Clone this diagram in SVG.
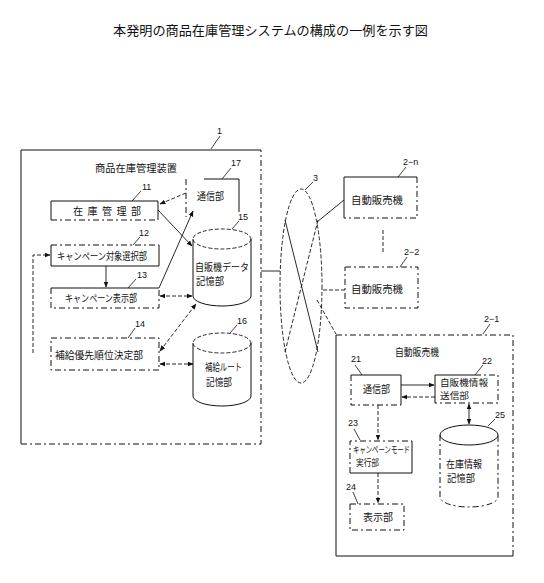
<svg xmlns="http://www.w3.org/2000/svg" width="544" height="583" viewBox="0 0 544 583">
<style>
text{font-family:"Noto Sans CJK JP","Liberation Sans",sans-serif;fill:#111;}
.t{font-size:10px;}
.s{font-size:9px;}
.n{font-family:"Liberation Sans",sans-serif;font-size:9px;}
.title{font-size:13px;}
.box{fill:none;stroke:#111;stroke-width:1;}
.dbox{fill:none;stroke:#111;stroke-width:1;stroke-dasharray:6 3 2 3;}
.ln{fill:none;stroke:#111;stroke-width:0.9;}
.dl{fill:none;stroke:#111;stroke-width:0.9;stroke-dasharray:4 2;}
.ld{fill:none;stroke:#111;stroke-width:0.8;}
</style>
<defs>
<marker id="ah" viewBox="0 0 10 10" refX="9" refY="5" markerWidth="6" markerHeight="6" orient="auto-start-reverse" markerUnits="userSpaceOnUse">
<path d="M0,1 L10,5 L0,9 z" fill="#111"/>
</marker>
</defs>
<rect width="544" height="583" fill="#fff"/>
<text class="title" x="113" y="35" textLength="315" lengthAdjust="spacingAndGlyphs">本発明の商品在庫管理システムの構成の一例を示す図</text>

<g id="device1">
<path class="box" d="M261,150 L21,150 L21,444"/>
<path class="dbox" d="M21,444 L261,444 L261,150"/>
<text class="t" x="95" y="172" textLength="82" lengthAdjust="spacingAndGlyphs">商品在庫管理装置</text>
<path class="ld" d="M211,149 L220,136"/>
<text class="n" x="217" y="134">1</text>
</g>

<g id="n17">
<path class="dbox" d="M186,179 L186,217"/>
<path class="box" d="M204,179 L239,179 L239,212"/>
<text class="t" x="197" y="200" textLength="27" lengthAdjust="spacingAndGlyphs">通信部</text>
<path class="ld" d="M222,179 L231,168"/>
<text class="n" x="231" y="166">17</text>
</g>

<g id="n11">
<path class="box" d="M51,220 L51,201 L158,201 L158,220"/>
<path class="dbox" d="M51,220 L158,220"/>
<text class="t" x="73" y="215" textLength="68" lengthAdjust="spacing">在庫管理部</text>
<path class="ld" d="M132,201 L141,191"/>
<text class="n" x="142" y="190">11</text>
</g>

<g id="n12">
<path class="dbox" d="M51,245 L159,245"/>
<path class="box" d="M51,245 L51,266 L159,266 L159,245"/>
<text class="t" x="57" y="260" textLength="90" lengthAdjust="spacingAndGlyphs">キャンペーン対象選択部</text>
<path class="ld" d="M133,245 L140,237"/>
<text class="n" x="139" y="236">12</text>
</g>

<g id="n13">
<path class="box" d="M51,288 L159,288"/>
<path class="dbox" d="M51,288 L51,308 L159,308 L159,288"/>
<text class="t" x="65" y="302" textLength="72" lengthAdjust="spacingAndGlyphs">キャンペーン表示部</text>
<path class="ld" d="M128,288 L136,279"/>
<text class="n" x="137" y="278">13</text>
</g>

<g id="n14">
<rect class="dbox" x="51" y="338" width="108" height="32"/>
<text class="t" x="55" y="359" textLength="88" lengthAdjust="spacingAndGlyphs">補給優先順位決定部</text>
<path class="ld" d="M128,338 L135,328"/>
<text class="n" x="135" y="327">14</text>
</g>

<g id="n15">
<path class="box" d="M193,239 L193,296 A29,10 0 0 0 251,296 L251,239"/>
<ellipse class="dl" cx="222" cy="239" rx="29" ry="10"/>
<text class="t" x="195" y="271" textLength="54" lengthAdjust="spacingAndGlyphs">自販機データ</text>
<text class="t" x="196" y="285" textLength="28" lengthAdjust="spacingAndGlyphs">記憶部</text>
<path class="ld" d="M232,229 L239,221"/>
<text class="n" x="238" y="220">15</text>
</g>

<g id="n16">
<path class="box" d="M193,343 L193,396 A29,10 0 0 0 251,396 L251,343"/>
<ellipse class="dl" cx="222" cy="343" rx="29" ry="10"/>
<text class="t" x="205" y="371" textLength="37" lengthAdjust="spacingAndGlyphs">補給ルート</text>
<text class="t" x="206" y="386" textLength="26" lengthAdjust="spacingAndGlyphs">記憶部</text>
<path class="ld" d="M230,333 L237,325"/>
<text class="n" x="237" y="324">16</text>
</g>

<g id="n3">
<ellipse class="dl" cx="301" cy="286" rx="21" ry="97"/>
<path class="ln" d="M285,220 L318,352"/>
<path class="dl" d="M318,220 L285,352"/>
<path class="ld" d="M305,190 L313,182"/>
<text class="n" x="313" y="181">3</text>
</g>

<g id="n2n">
<path class="box" d="M344,218 L344,177 L417,177"/>
<path class="dbox" d="M417,177 L417,218 L344,218"/>
<text class="t" x="351" y="204" textLength="52" lengthAdjust="spacingAndGlyphs">自動販売機</text>
<path class="ld" d="M398,177 L406,167"/>
<text class="n" x="403" y="165">2−n</text>
</g>

<g id="n22m">
<rect class="dbox" x="345" y="267" width="73" height="41"/>
<text class="t" x="351" y="293" textLength="52" lengthAdjust="spacingAndGlyphs">自動販売機</text>
<path class="ld" d="M400,267 L407,257"/>
<text class="n" x="404" y="255">2−2</text>
<path class="dl" d="M383,230 L383,252"/>
</g>

<g id="n21m">
<path class="dbox" d="M336,335 L513,335 L513,556"/>
<path class="box" d="M336,335 L336,556 L513,556"/>
<text class="t" x="395" y="356" textLength="44" lengthAdjust="spacingAndGlyphs">自動販売機</text>
<path class="ld" d="M483,334 L490,324"/>
<text class="n" x="484" y="322">2−1</text>
</g>

<g id="n21">
<path class="box" d="M351,375 L401,375 L401,405"/>
<path class="dbox" d="M351,375 L351,405 L401,405"/>
<text class="t" x="363" y="393" textLength="27" lengthAdjust="spacingAndGlyphs">通信部</text>
<path class="ld" d="M362,375 L355,365"/>
<text class="n" x="351" y="362">21</text>
</g>

<g id="n22">
<path class="box" d="M435,403 L435,375 L475,375"/>
<path class="dbox" d="M475,375 L498,375 L498,403 L435,403"/>
<text class="s" x="440" y="386" textLength="48" lengthAdjust="spacingAndGlyphs">自販機情報</text>
<text class="s" x="440" y="399" textLength="29" lengthAdjust="spacingAndGlyphs">送信部</text>
<path class="ld" d="M475,375 L483,365"/>
<text class="n" x="482" y="364">22</text>
</g>

<g id="n23">
<path class="dbox" d="M350,473 L350,441 L412,441"/>
<path class="box" d="M412,441 L412,473 L350,473"/>
<text class="s" x="353" y="453" textLength="57" lengthAdjust="spacingAndGlyphs">キャンペーンモード</text>
<text class="s" x="356" y="466" textLength="23" lengthAdjust="spacingAndGlyphs">実行部</text>
<path class="ld" d="M360,440 L354,429"/>
<text class="n" x="348" y="426">23</text>
</g>

<g id="n24">
<rect class="dbox" x="350" y="504" width="54" height="26"/>
<text class="t" x="363" y="521" textLength="30" lengthAdjust="spacingAndGlyphs">表示部</text>
<path class="ld" d="M358,504 L353,492"/>
<text class="n" x="346" y="490">24</text>
</g>

<g id="n25">
<path class="dbox" d="M440,435 L440,497 A29,10 0 0 0 498,497 L498,435"/>
<ellipse class="box" cx="469" cy="435" rx="29" ry="10"/>
<text class="t" x="446" y="468" textLength="36" lengthAdjust="spacingAndGlyphs">在庫情報</text>
<text class="t" x="447" y="482" textLength="28" lengthAdjust="spacingAndGlyphs">記憶部</text>
<path class="ld" d="M488,426 L495,419"/>
<text class="n" x="495" y="418">25</text>
</g>

<g id="connectors">
<path class="dl" d="M186,193 L160,204" marker-end="url(#ah)"/>
<path class="ln" d="M158,210 L192,246" marker-end="url(#ah)"/>
<path class="ln" d="M159,288 L193,211" marker-end="url(#ah)"/>
<path class="ln" d="M106,266 L106,287" marker-end="url(#ah)"/>
<path class="dl" d="M33,353 L33,255 L50,255" marker-end="url(#ah)"/>
<path class="dl" d="M160,296 L192,296" marker-start="url(#ah)" marker-end="url(#ah)"/>
<path class="dl" d="M160,351 L196,304" marker-start="url(#ah)" marker-end="url(#ah)"/>
<path class="dl" d="M160,364 L193,364" marker-start="url(#ah)" marker-end="url(#ah)"/>
<path class="ln" d="M261,271 L280,271"/>
<path class="ln" d="M317,222 L344,200"/>
<path class="dl" d="M323,290 L345,290"/>
<path class="dl" d="M317,300 L336,334"/>
<path class="ln" d="M401,385 L434,385" marker-end="url(#ah)"/>
<path class="dl" d="M435,397 L402,397" marker-end="url(#ah)"/>
<path class="ln" d="M469,404 L469,424" marker-start="url(#ah)" marker-end="url(#ah)"/>
<path class="dl" d="M378,405 L378,440" marker-end="url(#ah)"/>
<path class="dl" d="M378,473 L378,503" marker-end="url(#ah)"/>
</g>
</svg>
